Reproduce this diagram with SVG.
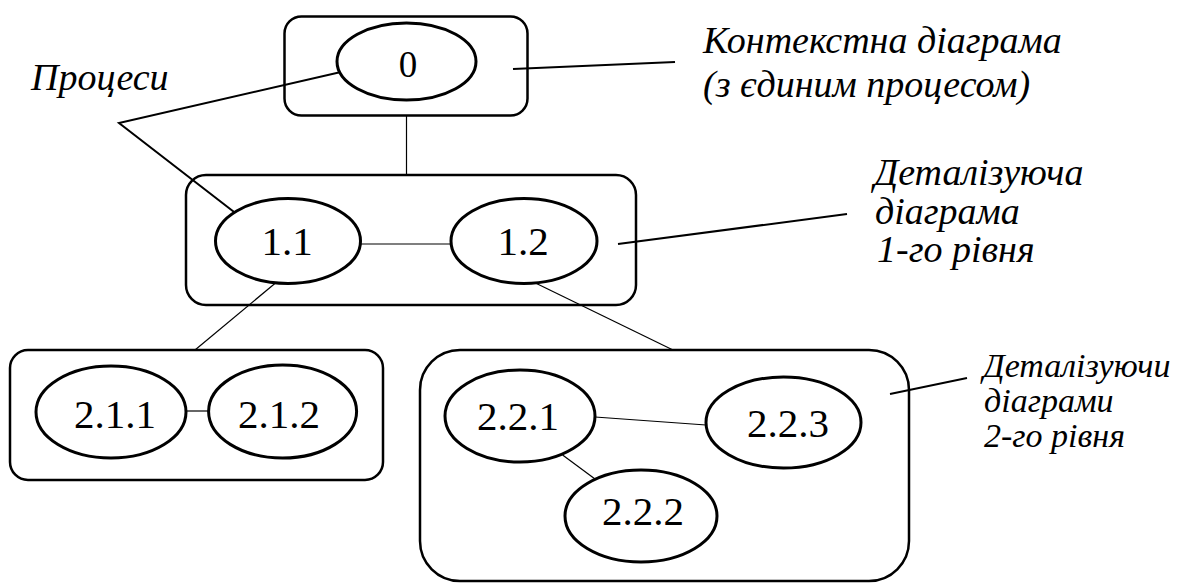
<svg xmlns="http://www.w3.org/2000/svg" width="1183" height="583" viewBox="0 0 1183 583">
  <style>
    .frame { fill: none; stroke: #000; stroke-width: 2.5; }
    .proc { fill: #fff; stroke: #000; stroke-width: 3; }
    .link { stroke: #000; stroke-width: 1.2; fill: none; }
    .lead { stroke: #000; stroke-width: 2; fill: none; }
  </style>
  <rect width="1183" height="583" fill="#fff"/>

  <!-- connectors between diagram levels and processes -->
  <g id="connectors">
    <line class="link" x1="406.5" y1="116" x2="406.5" y2="175"/>
    <line class="link" x1="360.5" y1="244" x2="451" y2="244"/>
    <line class="link" x1="275.5" y1="283" x2="195" y2="350"/>
    <line class="link" x1="519" y1="275" x2="673" y2="350"/>
    <line class="link" x1="186" y1="411" x2="208.6" y2="411"/>
    <line class="link" x1="595" y1="417" x2="706" y2="425"/>
    <line class="link" x1="562.6" y1="455" x2="595" y2="479"/>
    <!-- annotation leaders -->
    <polyline class="lead" points="354,69 119,123 247,222"/>
    <line class="lead" x1="513" y1="69" x2="675" y2="62"/>
    <line class="lead" x1="618" y1="244" x2="847" y2="214"/>
    <line class="lead" x1="890" y1="394" x2="967" y2="378"/>
  </g>

  <!-- diagram frames -->
  <g id="frame-context"><rect class="frame" x="284.5" y="16.5" width="243" height="99" rx="17"/></g>
  <g id="frame-level1"><rect class="frame" x="186" y="175" width="450" height="130" rx="20"/></g>
  <g id="frame-level2a"><rect class="frame" x="10" y="350" width="373" height="130" rx="18"/></g>
  <g id="frame-level2b"><rect class="frame" x="420" y="350" width="489" height="231" rx="40"/></g>

  <!-- processes -->
  <g id="p0">
    <ellipse class="proc" cx="406.5" cy="61.5" rx="69.5" ry="38.5"/>
    <text x="408" y="77" font-family="Times New Roman" font-size="37" text-anchor="middle">0</text>
  </g>
  <g id="p1-1">
    <ellipse class="proc" cx="288" cy="241" rx="72.5" ry="42.5"/>
    <text x="287" y="255" font-family="Times New Roman" font-size="41" text-anchor="middle">1.1</text>
  </g>
  <g id="p1-2">
    <ellipse class="proc" cx="524" cy="241" rx="73" ry="42.5"/>
    <text x="523" y="255" font-family="Times New Roman" font-size="41" text-anchor="middle">1.2</text>
  </g>
  <g id="p2-1-1">
    <ellipse class="proc" cx="111" cy="412" rx="75" ry="46"/>
    <text x="115" y="428" font-family="Times New Roman" font-size="41" text-anchor="middle">2.1.1</text>
  </g>
  <g id="p2-1-2">
    <ellipse class="proc" cx="282.6" cy="411.5" rx="74" ry="46.5"/>
    <text x="279" y="428" font-family="Times New Roman" font-size="41" text-anchor="middle">2.1.2</text>
  </g>
  <g id="p2-2-1">
    <ellipse class="proc" cx="520" cy="416" rx="75" ry="46"/>
    <text x="518" y="430" font-family="Times New Roman" font-size="41" text-anchor="middle">2.2.1</text>
  </g>
  <g id="p2-2-2">
    <ellipse class="proc" cx="641" cy="516" rx="76" ry="46"/>
    <text x="643" y="525" font-family="Times New Roman" font-size="41" text-anchor="middle">2.2.2</text>
  </g>
  <g id="p2-2-3">
    <ellipse class="proc" cx="783.5" cy="422.5" rx="77.5" ry="45.5"/>
    <text x="788" y="437" font-family="Times New Roman" font-size="41" text-anchor="middle">2.2.3</text>
  </g>

  <!-- annotations -->
  <text x="31" y="90" font-family="Liberation Serif" font-style="italic" font-size="38">Процеси</text>
  <text x="703" y="53" font-family="Liberation Serif" font-style="italic" font-size="38">Контекстна діаграма</text>
  <text x="703" y="97" font-family="Liberation Serif" font-style="italic" font-size="38">(з єдиним процесом)</text>
  <text x="874" y="185" font-family="Liberation Serif" font-style="italic" font-size="38">Деталізуюча</text>
  <text x="875" y="224" font-family="Liberation Serif" font-style="italic" font-size="38">діаграма</text>
  <text x="877" y="262" font-family="Liberation Serif" font-style="italic" font-size="38">1-го рівня</text>
  <text x="983" y="377" font-family="Liberation Serif" font-style="italic" font-size="34">Деталізуючи</text>
  <text x="984" y="412" font-family="Liberation Serif" font-style="italic" font-size="34">діаграми</text>
  <text x="984" y="447" font-family="Liberation Serif" font-style="italic" font-size="34">2-го рівня</text>
</svg>
